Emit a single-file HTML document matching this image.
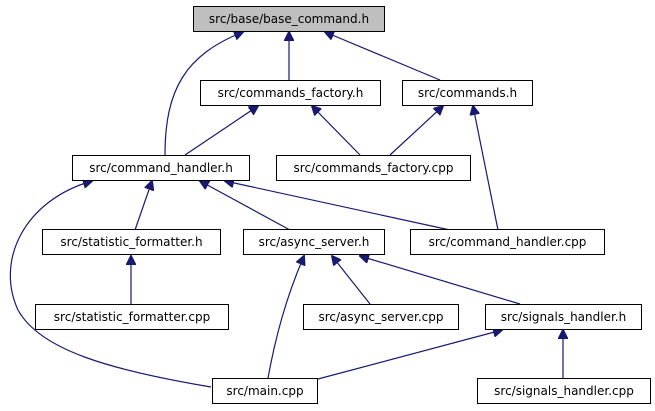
<!DOCTYPE html>
<html><head><meta charset="utf-8"><style>
html,body{margin:0;padding:0;background:#fff;}
svg{display:block;}
text{font-family:"DejaVu Sans","Liberation Sans",sans-serif;font-size:12px;fill:#000;}
</style></head><body>
<svg width="655" height="411" viewBox="0 0 655 411" xmlns="http://www.w3.org/2000/svg">
<defs>
<marker id="a" markerWidth="10" markerHeight="10" refX="9" refY="5" orient="auto" markerUnits="userSpaceOnUse">
<path d="M0,0 L10,5 L0,10 z" fill="#191970" stroke="#191970"/>
</marker>
</defs>
<g fill="none" stroke="#191970" stroke-width="1.2" marker-end="url(#a)">
<path d="M165,155 C165,90 185,55 243,32"/>
<path d="M289,80 L289,32"/>
<path d="M440,80 L325,32"/>
<path d="M185,155 L258,106"/>
<path d="M360,155 L312,106"/>
<path d="M390,155 L443,106"/>
<path d="M498,230 L473,106"/>
<path d="M135,230 L152,181"/>
<path d="M290,230 L200,181"/>
<path d="M450,230 L225,181"/>
<path d="M211,387 C110,370 40,350 18,310 C-5,260 25,200 92,181"/>
<path d="M131,304 L131,256"/>
<path d="M268,378 C275,340 285,300 304,256"/>
<path d="M370,304 L332,256"/>
<path d="M520,304 L360,256"/>
<path d="M318,379 L502,330"/>
<path d="M563,378 L563,330"/>
</g>
<g stroke="#000" stroke-width="1">
<rect x="193.5" y="6.5" width="191" height="25" fill="#bfbfbf"/>
<rect x="200.5" y="80.5" width="180" height="25" fill="#fff"/>
<rect x="402.5" y="80.5" width="130" height="25" fill="#fff"/>
<rect x="72.5" y="155.5" width="177" height="25" fill="#fff"/>
<rect x="276.5" y="155.5" width="194" height="25" fill="#fff"/>
<rect x="42.5" y="229.5" width="178" height="25" fill="#fff"/>
<rect x="243.5" y="229.5" width="141" height="25" fill="#fff"/>
<rect x="410.5" y="229.5" width="194" height="25" fill="#fff"/>
<rect x="35.5" y="304.5" width="193" height="25" fill="#fff"/>
<rect x="303.5" y="304.5" width="155" height="25" fill="#fff"/>
<rect x="485.5" y="304.5" width="156" height="25" fill="#fff"/>
<rect x="212.5" y="378.5" width="105" height="25" fill="#fff"/>
<rect x="477.5" y="378.5" width="173" height="25" fill="#fff"/>
</g>
<g text-anchor="middle">
<text x="289" y="23">src/base/base_command.h</text>
<text x="290.5" y="97">src/commands_factory.h</text>
<text x="467.5" y="97">src/commands.h</text>
<text x="161" y="172">src/command_handler.h</text>
<text x="373.5" y="172">src/commands_factory.cpp</text>
<text x="131.5" y="246">src/statistic_formatter.h</text>
<text x="314" y="246">src/async_server.h</text>
<text x="507.5" y="246">src/command_handler.cpp</text>
<text x="132" y="321">src/statistic_formatter.cpp</text>
<text x="381" y="321">src/async_server.cpp</text>
<text x="563.5" y="321">src/signals_handler.h</text>
<text x="265" y="395">src/main.cpp</text>
<text x="564" y="395">src/signals_handler.cpp</text>
</g>
</svg>
</body></html>
